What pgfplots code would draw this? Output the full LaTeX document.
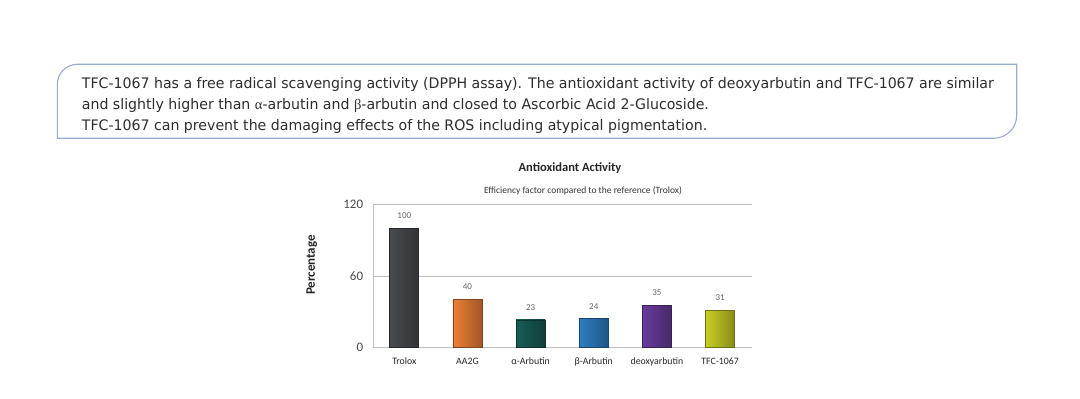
\documentclass[border=0pt]{standalone}
\usepackage{pgfplots}
\pgfplotsset{compat=1.18}
\usepackage{fontspec}
\setmainfont{Carlito}
\newfontfamily\boxfont[FakeStretch=0.975]{DejaVu Sans}
\newfontfamily\greekfont{Liberation Serif}
\definecolor{boxc}{RGB}{150,172,210}
\definecolor{boxtext}{RGB}{45,45,45}
\definecolor{gridc}{RGB}{190,190,190}
\definecolor{labc}{RGB}{75,75,75}
\definecolor{valc}{RGB}{100,100,100}
\definecolor{cTrolox}{RGB}{72,75,78}
\definecolor{cAA}{RGB}{236,128,56}
\definecolor{cAlpha}{RGB}{24,92,86}
\definecolor{cBeta}{RGB}{45,125,195}
\definecolor{cDeoxy}{RGB}{105,60,155}
\definecolor{cTFC}{RGB}{200,206,36}
\pgfplotsset{bev/.style={left color=#1, middle color=#1!88!white, right color=#1!68!black, draw=#1!55!black, line width=0.8pt}}
\begin{document}
\begin{tikzpicture}
\path[use as bounding box] (0pt,0pt) rectangle (1080pt,399pt);
% rounded text box
\draw[boxc, line width=1.1pt] (57.3pt,260.7pt) -- (57.3pt,314.7pt) arc[start angle=180,end angle=90,radius=20pt] -- (1016.7pt,334.7pt) -- (1016.7pt,283.7pt) arc[start angle=0,end angle=-90,radius=23pt] -- cycle;
\begin{scope}[every node/.style={anchor=base west, inner sep=0pt, text=boxtext, font=\boxfont\fontsize{14.5}{14.5}\selectfont}]
\node at (81.7pt,310.7pt) {TFC-1067 has a free radical scavenging activity (DPPH assay). The antioxidant activity of deoxyarbutin and TFC-1067 are similar};
\node at (81.7pt,289.5pt) {and slightly higher than {\greekfont α}-arbutin and {\greekfont β}-arbutin and closed to Ascorbic Acid 2-Glucoside.};
\node at (81.7pt,268.3pt) {TFC-1067 can prevent the damaging effects of the ROS including atypical pigmentation.};
\end{scope}
% titles
\node[font=\bfseries\fontsize{12.5}{12.5}\selectfont, text=black!85] at (570pt,231pt) {Antioxidant Activity};
\node[font=\fontsize{9.5}{9.5}\selectfont, text=black!80] at (583pt,208pt) {Efficiency factor compared to the reference (Trolox)};
\node[rotate=90, font=\bfseries\fontsize{13}{13}\selectfont, text=black!85] at (311.7pt,134pt) {Percentage};
\begin{axis}[
  at={(372.7pt,51.7pt)}, anchor=south west, scale only axis,
  width=379pt, height=142.6pt,
  xmin=-0.5, xmax=5.5, ymin=0, ymax=120,
  ytick={0,60,120},
  xtick={0,1,2,3,4,5},
  xticklabels={Trolox, AA2G, α-Arbutin, β-Arbutin, deoxyarbutin, TFC-1067},
  /pgf/number format/assume math mode=true,
  axis x line*=bottom, axis y line*=left,
  axis line style={gridc, -},
  ymajorgrids, grid style={gridc, line width=0.8pt},
  major tick length=0pt,
  yticklabel style={font=\fontsize{13}{13}\selectfont, text=labc, xshift=-6pt},
  xticklabel style={font=\fontsize{9.8}{9.8}\selectfont, text=black!85, yshift=-7pt},
  ybar, bar width=29pt, bar shift=0pt,
  clip=false,
  nodes near coords,
  every node near coord/.append style={font=\fontsize{9}{9}\selectfont, text=valc, yshift=6pt},
]
\addplot[bev=cTrolox] coordinates {(0,100)};
\addplot[bev=cAA] coordinates {(1,40)};
\addplot[bev=cAlpha] coordinates {(2,23)};
\addplot[bev=cBeta] coordinates {(3,24)};
\addplot[bev=cDeoxy] coordinates {(4,35)};
\addplot[bev=cTFC] coordinates {(5,31)};
\end{axis}
\end{tikzpicture}
\end{document}
